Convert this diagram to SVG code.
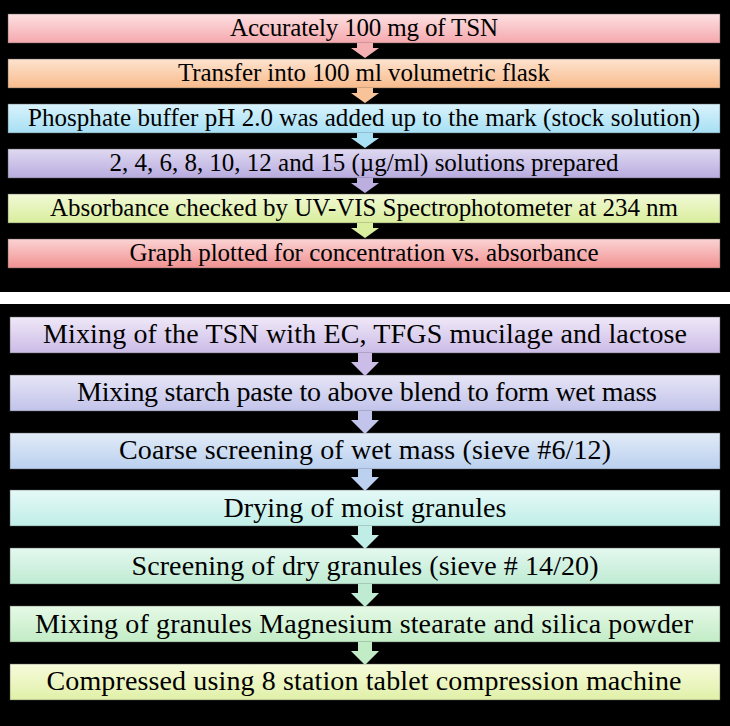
<svg xmlns="http://www.w3.org/2000/svg" width="730" height="726" viewBox="0 0 730 726">
<defs>
<linearGradient id="gt1" x1="0" y1="0" x2="0" y2="1"><stop offset="0" stop-color="#fde0e2"/><stop offset="1" stop-color="#f5a8ad"/></linearGradient>
<linearGradient id="gt2" x1="0" y1="0" x2="0" y2="1"><stop offset="0" stop-color="#fde3cf"/><stop offset="1" stop-color="#f8bb8c"/></linearGradient>
<linearGradient id="gt3" x1="0" y1="0" x2="0" y2="1"><stop offset="0" stop-color="#d9f3fc"/><stop offset="1" stop-color="#a6dff4"/></linearGradient>
<linearGradient id="gt4" x1="0" y1="0" x2="0" y2="1"><stop offset="0" stop-color="#dfd9f1"/><stop offset="1" stop-color="#b8abdf"/></linearGradient>
<linearGradient id="gt5" x1="0" y1="0" x2="0" y2="1"><stop offset="0" stop-color="#f2f9d6"/><stop offset="1" stop-color="#d8ed9c"/></linearGradient>
<linearGradient id="gt6" x1="0" y1="0" x2="0" y2="1"><stop offset="0" stop-color="#fbd3d3"/><stop offset="1" stop-color="#f19191"/></linearGradient>
<linearGradient id="gb1" x1="0" y1="0" x2="0" y2="1"><stop offset="0" stop-color="#efe8f7"/><stop offset="1" stop-color="#cbbbe7"/></linearGradient>
<linearGradient id="gb2" x1="0" y1="0" x2="0" y2="1"><stop offset="0" stop-color="#e6e5f6"/><stop offset="1" stop-color="#c2c3ea"/></linearGradient>
<linearGradient id="gb3" x1="0" y1="0" x2="0" y2="1"><stop offset="0" stop-color="#e1ebf7"/><stop offset="1" stop-color="#bad0ef"/></linearGradient>
<linearGradient id="gb4" x1="0" y1="0" x2="0" y2="1"><stop offset="0" stop-color="#e5f9f7"/><stop offset="1" stop-color="#c0eee7"/></linearGradient>
<linearGradient id="gb5" x1="0" y1="0" x2="0" y2="1"><stop offset="0" stop-color="#e4f8ef"/><stop offset="1" stop-color="#bfebd3"/></linearGradient>
<linearGradient id="gb6" x1="0" y1="0" x2="0" y2="1"><stop offset="0" stop-color="#e6f9e6"/><stop offset="1" stop-color="#c2ecc6"/></linearGradient>
<linearGradient id="gb7" x1="0" y1="0" x2="0" y2="1"><stop offset="0" stop-color="#f7fbdb"/><stop offset="1" stop-color="#e0f0a8"/></linearGradient>
</defs>
<rect x="0" y="0" width="730" height="726" fill="#000"/>
<rect x="0" y="292" width="730" height="12" fill="#fff"/>

<g stroke="#5a5a5a" stroke-width="0.8" stroke-opacity="0.6">
<rect id="box-t1" x="8" y="14" width="712" height="29" fill="url(#gt1)"/>
<rect id="box-t2" x="8" y="59" width="712" height="29" fill="url(#gt2)"/>
<rect id="box-t3" x="8" y="104" width="712" height="29" fill="url(#gt3)"/>
<rect id="box-t4" x="8" y="149" width="712" height="29" fill="url(#gt4)"/>
<rect id="box-t5" x="8" y="194" width="712" height="29" fill="url(#gt5)"/>
<rect id="box-t6" x="8" y="239" width="712" height="29" fill="url(#gt6)"/>
<rect id="box-b1" x="10" y="317" width="710" height="36" fill="url(#gb1)"/>
<rect id="box-b2" x="10" y="375" width="710" height="36" fill="url(#gb2)"/>
<rect id="box-b3" x="10" y="433" width="710" height="36" fill="url(#gb3)"/>
<rect id="box-b4" x="10" y="490" width="710" height="36" fill="url(#gb4)"/>
<rect id="box-b5" x="10" y="548" width="710" height="36" fill="url(#gb5)"/>
<rect id="box-b6" x="10" y="606" width="710" height="36" fill="url(#gb6)"/>
<rect id="box-b7" x="10" y="664" width="710" height="36" fill="url(#gb7)"/>
</g>

<g font-family="'Liberation Serif', serif" text-anchor="middle" fill="#000">
<text x="364" y="36" font-size="25" textLength="268">Accurately 100 mg of TSN</text>
<text x="364" y="81" font-size="25" textLength="372">Transfer into 100 ml volumetric flask</text>
<text x="364" y="126" font-size="25" textLength="672">Phosphate buffer pH 2.0 was added up to the mark (stock solution)</text>
<text x="364" y="171" font-size="25" textLength="509">2, 4, 6, 8, 10, 12 and 15 (&#181;g/ml) solutions prepared</text>
<text x="364" y="216" font-size="25" textLength="628">Absorbance checked by UV-VIS Spectrophotometer at 234 nm</text>
<text x="364" y="261" font-size="25" textLength="469">Graph plotted for concentration vs. absorbance</text>
<text x="365" y="343" font-size="28" textLength="644">Mixing of the TSN with EC, TFGS mucilage and lactose</text>
<text x="367" y="401" font-size="28" textLength="580">Mixing starch paste to above blend to form wet mass</text>
<text x="365" y="459" font-size="28" textLength="492">Coarse screening of wet mass (sieve #6/12)</text>
<text x="365" y="517" font-size="28" textLength="283">Drying of moist granules</text>
<text x="365" y="575" font-size="28" textLength="467">Screening of dry granules (sieve # 14/20)</text>
<text x="364" y="633" font-size="28" textLength="658">Mixing of granules Magnesium stearate and silica powder</text>
<text x="364" y="690" font-size="28" textLength="635">Compressed using 8 station tablet compression machine</text>
</g>

<g id="connectors">
<polygon points="357,43 373,43 373,48 379,48 365,58 351,48 357,48" fill="#f5b0b4"/>
<polygon points="357,88 373,88 373,93 379,93 365,103 351,93 357,93" fill="#f9c39a"/>
<polygon points="357,133 373,133 373,138 379,138 365,148 351,138 357,138" fill="#a9e0f4"/>
<polygon points="357,178 373,178 373,183 379,183 365,193 351,183 357,183" fill="#bcafe0"/>
<polygon points="357,223 373,223 373,228 379,228 365,238 351,228 357,228" fill="#d9ee9f"/>
<polygon points="358,353 372,353 372,362 379,362 365,376 351,362 358,362" fill="#cbbde8"/>
<polygon points="358,411 372,411 372,420 379,420 365,434 351,420 358,420" fill="#c3c4eb"/>
<polygon points="358,469 372,469 372,477 379,477 365,491 351,477 358,477" fill="#bcd1ef"/>
<polygon points="358,526 372,526 372,535 379,535 365,549 351,535 358,535" fill="#c0eee7"/>
<polygon points="358,584 372,584 372,593 379,593 365,607 351,593 358,593" fill="#bfebd3"/>
<polygon points="358,642 372,642 372,651 379,651 365,665 351,651 358,651" fill="#c2ecc6"/>
</g>
</svg>
